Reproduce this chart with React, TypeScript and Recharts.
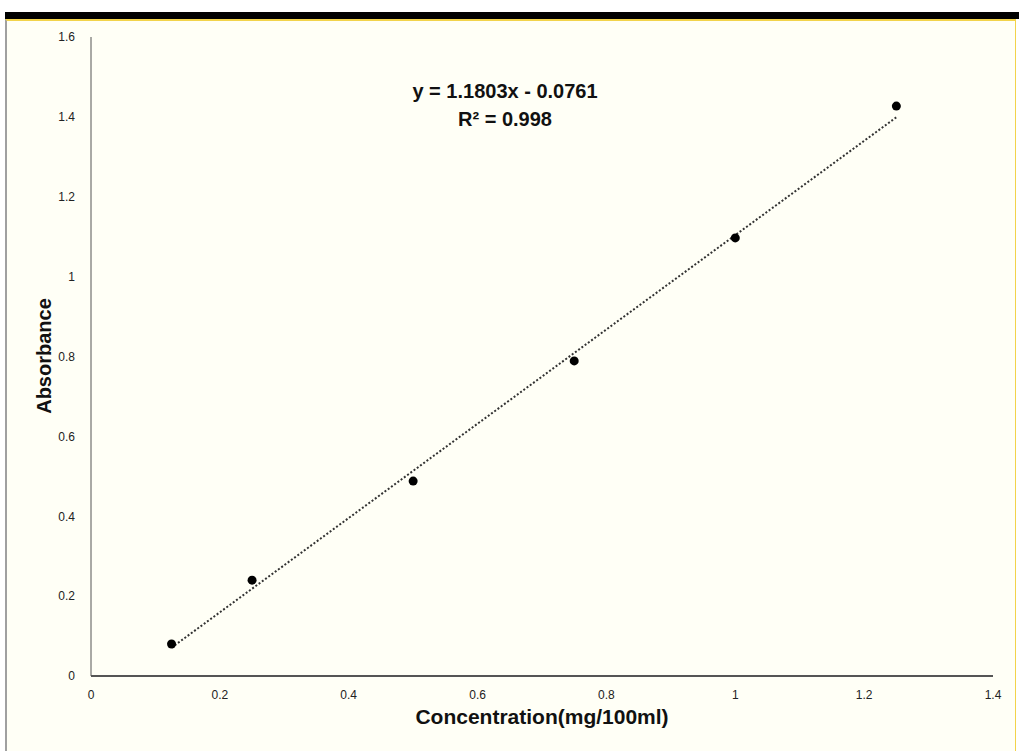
import { ScatterChart, Scatter, XAxis, YAxis } from 'recharts';

const concentration = [0.125, 0.25, 0.5, 0.75, 1.0, 1.25];
const absorbance = [0.08, 0.24, 0.488, 0.789, 1.097, 1.427];

// trendline end points
const trendX = [0.125, 1.25];
const trendY = [0.071, 1.399];

const xTicks = [0, 0.2, 0.4, 0.6, 0.8, 1, 1.2, 1.4];
const yTicks = [0, 0.2, 0.4, 0.6, 0.8, 1, 1.2, 1.4, 1.6];

const equation = 'y = 1.1803x - 0.0761';
const rSquared = '0.998';

const points = concentration.map((x, i) => ({ x, y: absorbance[i] }));
const trend = trendX.map((x, i) => ({ x, y: trendY[i] }));

const tickStyle = { fill: '#222', fontSize: 12, fontFamily: '"Liberation Sans Narrow", "Liberation Sans", sans-serif' };
const titleFont = '"Liberation Sans", Arial, sans-serif';

export default function App() {
  return (
    <div style={{ position: 'absolute', left: 0, top: 0, width: 1019, height: 751, background: '#fff', overflow: 'hidden' }}>
      <div style={{ position: 'absolute', left: 5, top: 12, width: 1014, height: 7, background: '#000' }} />
      <div
        style={{
          position: 'absolute', left: 5, top: 19, width: 1008, height: 732, background: '#fffff6',
          borderLeft: '2px solid #a0a0a0', borderTop: '2px solid #f2d34a', borderRight: '1px solid #f2d34a',
        }}
      />
      <div style={{ position: 'absolute', left: 0, top: 0 }}>
        <ScatterChart width={1019} height={751} margin={{ top: 37, right: 26, bottom: 45, left: 31 }}>
          <XAxis
            type="number"
            dataKey="x"
            domain={[0, 1.4]}
            ticks={xTicks}
            tickLine={false}
            axisLine={{ stroke: '#555', strokeWidth: 2 }}
            tick={tickStyle}
            tickMargin={8}
            height={30}
          />
          <YAxis
            type="number"
            dataKey="y"
            domain={[0, 1.6]}
            ticks={yTicks}
            tickLine={false}
            axisLine={{ stroke: '#555', strokeWidth: 1 }}
            tick={tickStyle}
            tickMargin={10}
            width={60}
          />
          <Scatter
            data={trend}
            line={{ stroke: '#333', strokeWidth: 2, strokeDasharray: '2 2' }}
            shape={() => <g />}
            isAnimationActive={false}
          />
          <Scatter data={points} fill="#000" shape={(p: any) => <circle cx={p.cx} cy={p.cy} r={4.5} fill="#000" />} isAnimationActive={false} />
        </ScatterChart>
      </div>
      <div style={{ position: 'absolute', left: 385, width: 240, top: 77, textAlign: 'center', fontFamily: titleFont, fontWeight: 'bold', fontSize: 20, lineHeight: '28px', color: '#111' }}>
        <div>{equation}</div>
        <div>R² = {rSquared}</div>
      </div>
      <div style={{ position: 'absolute', left: 342, width: 400, top: 705, textAlign: 'center', fontFamily: titleFont, fontWeight: 'bold', fontSize: 21, color: '#111' }}>
        Concentration(mg/100ml)
      </div>
      <div
        style={{
          position: 'absolute', left: 44, top: 356, transform: 'translate(-50%, -50%) rotate(-90deg)', whiteSpace: 'nowrap',
          fontFamily: titleFont, fontWeight: 'bold', fontSize: 20, color: '#111',
        }}
      >
        Absorbance
      </div>
    </div>
  );
}
